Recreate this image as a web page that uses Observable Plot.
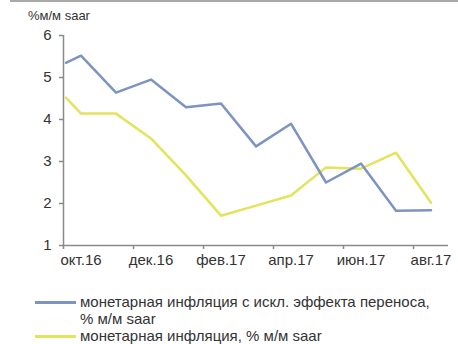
<!DOCTYPE html>
<html>
<head>
<meta charset="utf-8">
<script src="https://cdn.jsdelivr.net/npm/d3@7"></script>
<script src="https://cdn.jsdelivr.net/npm/@observablehq/plot@0.6"></script>
<style>
  html, body { margin: 0; padding: 0; background: #fff; }
  body { width: 458px; height: 344px; overflow: hidden; position: relative; font-family: "Liberation Sans", Arial, sans-serif; color: #333; }
  .topline { position: absolute; left: 10px; right: 0; top: 0; height: 2px; background: #a9a9a9; }
  .ytitle { position: absolute; left: 28px; top: 8px; font-size: 13px; color: #333; }
  #chart { position: absolute; left: 0; top: 0; }
  .legend { position: absolute; left: 35px; top: 293px; font-size: 15px; line-height: 17px; color: #333; }
  .item { display: flex; align-items: flex-start; }
  .swatch { width: 41px; height: 3px; margin-top: 8px; margin-right: 4px; flex: none; }
  .label { white-space: nowrap; }
</style>
</head>
<body>
<div class="topline"></div>
<div id="chart"></div>
<div class="ytitle">%м/м saar</div>
<div class="legend" id="legend"></div>
<script>
// Month positions: 0 = окт.16 … 10 = авг.17; the series starts mid-September
const xPos = [-0.43, 0, 1, 2, 3, 4, 5, 6, 7, 8, 9, 10];
const monetaryExPassThrough = [5.35, 5.52, 4.64, 4.95, 4.29, 4.38, 3.36, 3.90, 2.50, 2.95, 1.83, 1.84];
const monetaryInflation = [4.52, 4.14, 4.14, 3.55, 2.67, 1.71, 1.95, 2.19, 2.86, 2.83, 3.21, 2.02];

const monthLabels = ["окт.16", "дек.16", "фев.17", "апр.17", "июн.17", "авг.17"];
const labelPos = [0, 2, 4, 6, 8, 10];
const tickPos = [-0.5, 1.5, 3.5, 5.5, 7.5, 9.5];
const yTicks = [1, 2, 3, 4, 5, 6];

// legend names, one entry per printed line
const seriesNames = [
  ["монетарная инфляция с искл. эффекта переноса,", "% м/м saar"],
  ["монетарная инфляция, % м/м saar"]
];
const seriesKeys = seriesNames.map(lines => lines.join(" "));
const seriesColors = ["#7d93c2", "#e3e35c"];

const rows = [];
xPos.forEach((x, i) => {
  rows.push({x, v: monetaryExPassThrough[i], s: seriesKeys[0]});
  rows.push({x, v: monetaryInflation[i], s: seriesKeys[1]});
});

const axisColor = "#8a8a8a";
const chart = Plot.plot({
  width: 458,
  height: 280,
  marginLeft: 63,
  marginRight: 10,
  marginTop: 35,
  marginBottom: 35,
  style: {fontFamily: "Liberation Sans, Arial, sans-serif", fontSize: "15px", color: "#333", background: "transparent"},
  x: {domain: [-0.5, 10.5]},
  y: {domain: [1, 6]},
  color: {domain: seriesKeys, range: seriesColors},
  marks: [
    Plot.line(rows.filter(d => d.s === seriesKeys[1]), {x: "x", y: "v", stroke: "s", strokeWidth: 2.5}),
    Plot.line(rows.filter(d => d.s === seriesKeys[0]), {x: "x", y: "v", stroke: "s", strokeWidth: 2.5}),
    Plot.ruleX([-0.5], {stroke: axisColor, strokeWidth: 1.5}),
    Plot.ruleY([1], {stroke: axisColor, strokeWidth: 1.5}),
    Plot.axisY(yTicks, {tickSize: 4, tickPadding: 8, stroke: axisColor, strokeWidth: 1.5, label: null, tickFormat: d => String(d)}),
    Plot.axisX(tickPos, {tickSize: 4, tickFormat: () => "", stroke: axisColor, strokeWidth: 1.5, label: null}),
    Plot.axisX(labelPos, {tickSize: 0, tickPadding: 9, tickFormat: d => monthLabels[labelPos.indexOf(d)], label: null})
  ]
});
document.getElementById("chart").appendChild(chart);

const legend = document.getElementById("legend");
seriesNames.forEach((lines, i) => {
  const item = document.createElement("div");
  item.className = "item";
  const sw = document.createElement("div");
  sw.className = "swatch";
  sw.style.background = seriesColors[i];
  const tx = document.createElement("div");
  lines.forEach(line => {
    const l = document.createElement("div");
    l.className = "label";
    l.textContent = line;
    tx.appendChild(l);
  });
  item.appendChild(sw);
  item.appendChild(tx);
  legend.appendChild(item);
});
</script>
</body>
</html>
